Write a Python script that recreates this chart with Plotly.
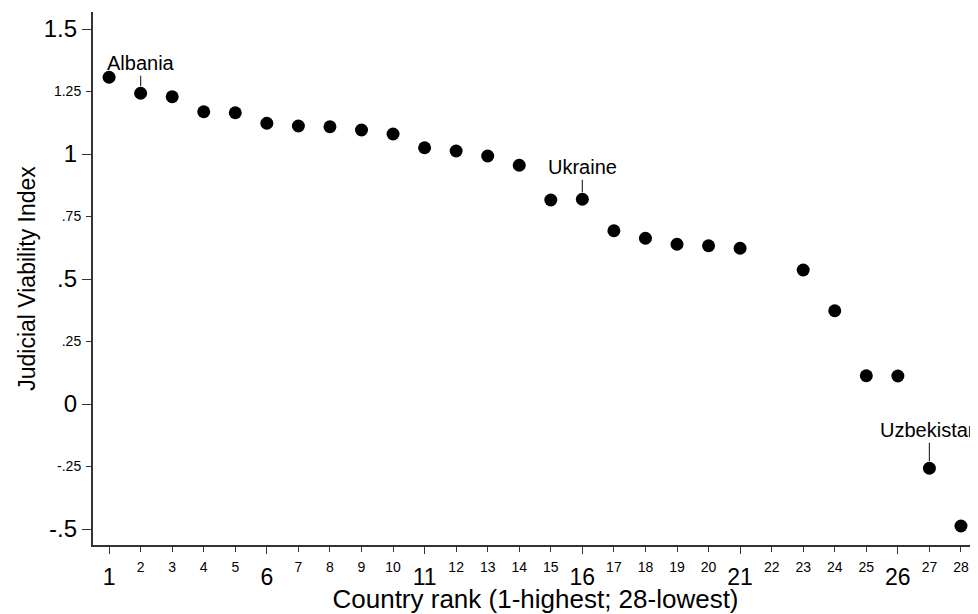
import plotly.graph_objects as go

# Data
ranks = [1, 2, 3, 4, 5, 6, 7, 8, 9, 10, 11, 12, 13, 14, 15, 16, 17, 18, 19, 20, 21,
         23, 24, 25, 26, 27, 28]
jvi = [1.307, 1.243, 1.229, 1.169, 1.165, 1.123, 1.112, 1.109, 1.096, 1.080, 1.025,
       1.012, 0.992, 0.955, 0.816, 0.819, 0.693, 0.663, 0.639, 0.633, 0.623,
       0.536, 0.373, 0.113, 0.112, -0.257, -0.488]

x_major_ticks = [1, 6, 11, 16, 21, 26]
x_minor_ticks = [2, 3, 4, 5, 7, 8, 9, 10, 12, 13, 14, 15, 17, 18, 19, 20, 22, 23, 24, 25, 27, 28]
y_major_ticks = [1.5, 1, 0.5, 0, -0.5]
y_major_labels = ["1.5", "1", ".5", "0", "-.5"]
y_minor_ticks = [1.25, 0.75, 0.25, -0.25]
y_minor_labels = ["1.25", ".75", ".25", "-.25"]

labels = [("Albania", 2), ("Ukraine", 16), ("Uzbekistan", 27)]
label_offsets = {"Albania": -30, "Ukraine": -32, "Uzbekistan": -38}

FONT = "Liberation Sans, Arial, sans-serif"
AX = "#333333"

fig = go.Figure()
fig.add_trace(go.Scatter(x=ranks, y=jvi, mode="markers",
                         marker=dict(color="black", size=13, line=dict(width=0)),
                         showlegend=False, hoverinfo="x+y", cliponaxis=False))
# invisible trace to carry the major-tick axes
fig.add_trace(go.Scatter(x=ranks, y=jvi, mode="markers", xaxis="x2", yaxis="y2",
                         marker=dict(opacity=0), showlegend=False, hoverinfo="skip"))

xr = [0.49, 28.54]
yr = [-0.564, 1.568]

common = dict(automargin=False, showgrid=False, zeroline=False,
              tickwidth=1.2, tickcolor=AX, fixedrange=True)

fig.update_layout(
    width=970, height=606,
    margin=dict(l=85, r=0, t=4, b=69, autoexpand=False),
    paper_bgcolor="white", plot_bgcolor="white",
    font=dict(family=FONT, color="black"),
    xaxis=dict(range=xr, ticks="outside", ticklen=5, tickvals=x_minor_ticks,
               showline=True, linecolor=AX, linewidth=2,
               ticktext=[str(v) for v in x_minor_ticks],
               tickfont=dict(size=14, family=FONT), ticklabelstandoff=3,
               title=dict(text="Country rank (1-highest; 28-lowest)",
                          font=dict(size=26, family=FONT), standoff=16),
               **common),
    xaxis2=dict(overlaying="x", anchor="y2", side="bottom", range=xr,
                ticks="outside", ticklen=8, tickvals=x_major_ticks, showline=False,
                ticktext=[str(v) for v in x_major_ticks],
                tickfont=dict(size=23, family=FONT), ticklabelstandoff=3,
                **common),
    yaxis=dict(range=yr, ticks="outside", ticklen=5, tickvals=y_minor_ticks,
               showline=True, linecolor=AX, linewidth=2,
               minor=dict(tickvals=y_major_ticks, ticks="outside", ticklen=9,
                          tickwidth=1.2, tickcolor=AX, showgrid=False),
               ticktext=y_minor_labels, tickfont=dict(size=14, family=FONT),
               ticklabelstandoff=2,
               title=dict(text="Judicial Viability Index",
                          font=dict(size=23, family=FONT), standoff=12),
               **common),
    yaxis2=dict(overlaying="y", anchor="x2", side="left", range=yr,
                ticks="", tickvals=y_major_ticks, ticktext=y_major_labels,
                showline=False, tickfont=dict(size=24, family=FONT),
                ticklabelstandoff=15, **common),
)

yv = dict(zip(ranks, jvi))
for name, r in labels:
    fig.add_annotation(x=r, y=yv[r], text=name, showarrow=True, arrowhead=0,
                       arrowwidth=1.2, arrowcolor=AX, ax=0, ay=label_offsets[name],
                       standoff=7, font=dict(size=20, family=FONT, color="black"))

fig.write_html("out.html")
